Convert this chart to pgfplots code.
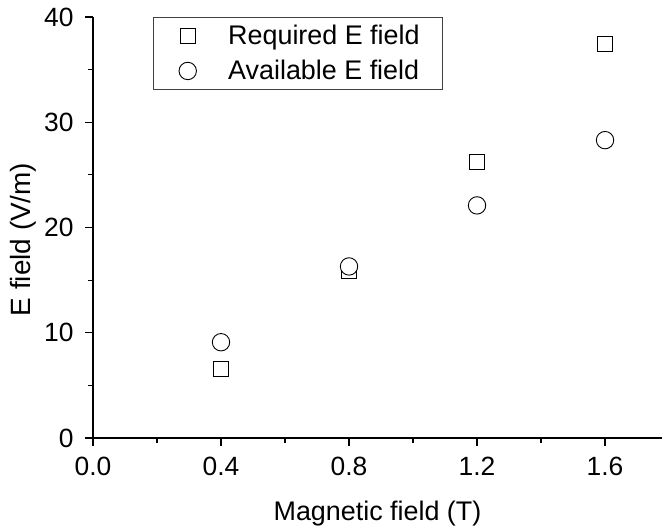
\documentclass[border=0pt]{standalone}
\usepackage{pgfplots}
\pgfplotsset{compat=1.18}
\usepackage{fontspec}
\setmainfont{Liberation Sans}
\begin{document}
\begin{tikzpicture}
\begin{axis}[
  scale only axis, width=569bp, height=421bp,
  xmin=0, xmax=1.778, ymin=0, ymax=40,
  axis x line*=bottom, axis y line*=left,
  axis line style={line width=1.2bp,-},
  xtick={0,0.4,0.8,1.2,1.6}, ytick={0,10,20,30,40},
  minor x tick num=1, minor y tick num=1,
  tick align=outside, major tick length=8bp, minor tick length=4.5bp,
  every tick/.style={black, line width=1.2bp},
  /pgf/number format/assume math mode=true,
  xticklabels={0.0,0.4,0.8,1.2,1.6},
  yticklabels={0,10,20,30,40},
  tick label style={font=\fontsize{26.5}{31}\selectfont},
  x tick label style={yshift=-8bp},
  y tick label style={xshift=-8bp},
  xlabel={Magnetic field (T)}, ylabel={E field (V/m)},
  every axis x label/.style={at={(axis description cs:0.5,0)}, anchor=base, yshift=-82bp, font=\fontsize{27}{32}\selectfont},
  every axis y label/.style={at={(axis description cs:0,0.5)}, xshift=-70bp, yshift=-12bp, rotate=90, anchor=center, font=\fontsize{28}{33}\selectfont},
  legend cell align=left,
  legend style={at={(rel axis cs:0.105,1)}, anchor=north west, draw=black!75, line width=1bp,
    font=\fontsize{27}{32}\selectfont, inner xsep=14bp, inner ysep=6bp, row sep=10bp},
  legend image code/.code={\path (0bp,0bp) (58bp,0bp); \draw[#1] plot coordinates {(20bp,0bp)};},
]
\addplot[only marks, mark=square*, mark size=7.5bp, mark options={fill=white, draw=black, line width=0.9bp}]
  coordinates {(0.4,6.6) (0.8,15.9) (1.2,26.2) (1.6,37.4)};
\addlegendentry{\makebox[198bp][l]{Required E field}}
\addplot[only marks, mark=*, mark size=8.7bp, mark options={fill=white, draw=black, line width=0.9bp}]
  coordinates {(0.4,9.1) (0.8,16.3) (1.2,22.1) (1.6,28.3)};
\addlegendentry{Available E field}
\end{axis}
\pgfresetboundingbox
\path[use as bounding box] (-93bp,-90bp) rectangle (569bp,438bp);
\end{tikzpicture}
\end{document}
